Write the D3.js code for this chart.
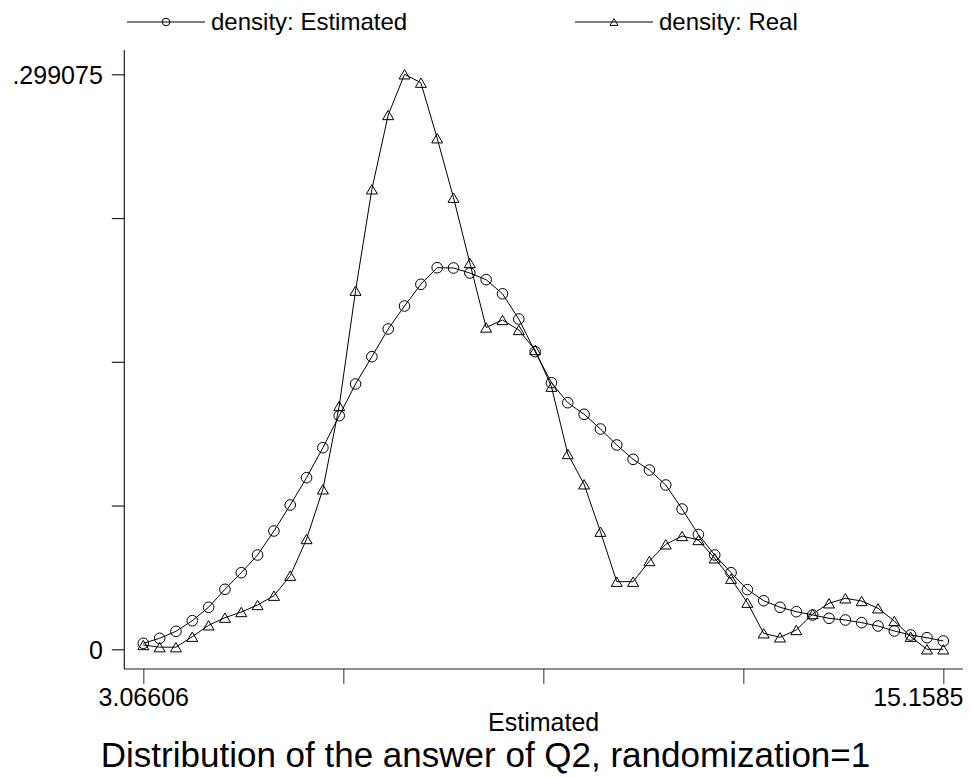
<!DOCTYPE html>
<html lang="en">
<head>
<meta charset="UTF-8">
<title>Distribution of the answer of Q2</title>
<script src="https://cdn.jsdelivr.net/npm/d3@7"></script>
<style>
    body { margin: 0; background: #fff; }
    svg text { font-family: "Liberation Sans", Arial, Helvetica, sans-serif; fill: #000; }
</style>
</head>
<body>
<div id="chart"></div>
<script>
// grid of evaluation points (50 points between min and max)
var xValues = [3.0661, 3.3128, 3.5596, 3.8064, 4.0532, 4.3000, 4.5468, 4.7935, 5.0403, 5.2871,
    5.5339, 5.7807, 6.0275, 6.2743, 6.5210, 6.7678, 7.0146, 7.2614, 7.5082, 7.7550,
    8.0017, 8.2485, 8.4953, 8.7421, 8.9889, 9.2357, 9.4824, 9.7292, 9.9760, 10.2228,
    10.4696, 10.7164, 10.9632, 11.2099, 11.4567, 11.7035, 11.9503, 12.1971, 12.4439, 12.6906,
    12.9374, 13.1842, 13.4310, 13.6778, 13.9246, 14.1714, 14.4181, 14.6649, 14.9117, 15.1585]

var densityEstimated = [0.00312, 0.00572, 0.00936, 0.01488, 0.02185, 0.03121, 0.03984, 0.04905, 0.06153, 0.07506,
    0.08925, 0.10486, 0.12150, 0.13799, 0.15219, 0.16660, 0.17856, 0.18985, 0.19848, 0.19833,
    0.19573, 0.19224, 0.18491, 0.17180, 0.15479, 0.13867, 0.12826, 0.12223, 0.11459, 0.10626,
    0.09882, 0.09326, 0.08546, 0.07297, 0.05971, 0.04905, 0.03984, 0.03105, 0.02528, 0.02185,
    0.01956, 0.01784, 0.01612, 0.01524, 0.01384, 0.01212, 0.00952, 0.00744, 0.00603, 0.00432]

var densityReal = [0.00224, 0.00110, 0.00110, 0.00655, 0.01248, 0.01644, 0.01940, 0.02304, 0.02788, 0.03828,
    0.05737, 0.08322, 0.12655, 0.18652, 0.23926, 0.27791, 0.299075, 0.29471, 0.26579, 0.23489,
    0.20093, 0.16738, 0.17128, 0.16608, 0.15568, 0.13659, 0.10158, 0.08582, 0.06117, 0.03516,
    0.03516, 0.04593, 0.05461, 0.05893, 0.05685, 0.04733, 0.03672, 0.02424, 0.00832, 0.00624,
    0.01004, 0.01836, 0.02393, 0.02653, 0.02512, 0.02133, 0.01472, 0.00655, 0, 0]

var xTicks = [3.06606, 6.0892, 9.11228, 12.1354, 15.1585]
var xTickLabels = ["3.06606", "", "", "", "15.1585"]
var yTicks = [0, 0.07476875, 0.1495375, 0.22430625, 0.299075]
var yTickLabels = ["0", "", "", "", ".299075"]

var seriesNames = ["density: Estimated", "density: Real"]
var xTitle = "Estimated"
var chartTitle = "Distribution of the answer of Q2, randomization=1"

var W = 971, H = 778
// plot region (axis lines) and inner data range
var regionLeft = 124.3, regionRight = 963, regionTop = 50, regionBottom = 669

var svg = d3.select("#chart").append("svg").attr("width", W).attr("height", H)
svg.append("rect").attr("width", W).attr("height", H).attr("fill", "#fff")

var x = d3.scaleLinear().domain([3.06606, 15.1585]).range([143.3, 943.3])
var y = d3.scaleLinear().domain([0, 0.299075]).range([649.3, 74.3])

// y axis
var yAxis = d3.axisLeft(y).tickValues(yTicks).tickSize(12.5).tickPadding(9)
    .tickFormat((d, i) => yTickLabels[i])
var gy = svg.append("g").attr("transform", "translate(" + regionLeft + ",0)").call(yAxis)
gy.select(".domain").remove()
gy.selectAll(".tick line").attr("stroke", "#222").attr("stroke-width", 1.2)
gy.selectAll(".tick text").attr("font-size", 25).attr("dy", "0.35em")
svg.append("line").attr("x1", regionLeft).attr("x2", regionLeft)
    .attr("y1", regionTop).attr("y2", regionBottom).attr("stroke", "#222").attr("stroke-width", 1.2)

// x axis
var xAxis = d3.axisBottom(x).tickValues(xTicks).tickSize(15).tickPadding(4)
    .tickFormat((d, i) => xTickLabels[i])
var gx = svg.append("g").attr("transform", "translate(0," + regionBottom + ")").call(xAxis)
gx.select(".domain").remove()
gx.selectAll(".tick line").attr("stroke", "#555").attr("stroke-width", 1.2)
gx.selectAll(".tick text").attr("font-size", 25).attr("dy", "0.71em")
// last label is pulled in so it stays inside the picture
gx.selectAll(".tick text").filter((d, i) => i == xTicks.length - 1)
    .attr("text-anchor", "end").attr("x", regionRight - x(15.1585))
svg.append("line").attr("x1", regionLeft).attr("x2", regionRight)
    .attr("y1", regionBottom).attr("y2", regionBottom).attr("stroke", "#222").attr("stroke-width", 1.2)

// titles
svg.append("text").attr("x", (regionLeft + regionRight) / 2).attr("y", 731)
    .attr("text-anchor", "middle").attr("font-size", 25).text(xTitle)
svg.append("text").attr("x", W / 2).attr("y", 767)
    .attr("text-anchor", "middle").attr("font-size", 35).text(chartTitle)

// markers
function circleMark(g, r) {
    g.append("circle").attr("r", r).attr("fill", "none").attr("stroke", "#000").attr("stroke-width", 1)
}
function triangleMark(g, s) {
    var h = s * 0.85
    g.append("path").attr("d", "M0," + (-h / 2) + "L" + (s / 2) + "," + (h / 2) + "L" + (-s / 2) + "," + (h / 2) + "Z")
        .attr("fill", "none").attr("stroke", "#000").attr("stroke-width", 1)
}

var line = d3.line().x(d => x(d[0])).y(d => y(d[1]))
var series = [
    { values: densityEstimated, mark: circleMark, size: 5.3 },
    { values: densityReal, mark: triangleMark, size: 11 }
]
series.forEach(s => {
    var pts = xValues.map((xv, i) => [xv, s.values[i]])
    svg.append("path").datum(pts).attr("d", line)
        .attr("fill", "none").attr("stroke", "#000").attr("stroke-width", 1)
    svg.append("g").selectAll("g").data(pts).join("g")
        .attr("transform", d => "translate(" + x(d[0]) + "," + y(d[1]) + ")")
        .each(function () { s.mark(d3.select(this), s.size) })
})

// legend
var legend = [
    { name: seriesNames[0], x: 127, mark: circleMark, size: 3.8 },
    { name: seriesNames[1], x: 575, mark: triangleMark, size: 8 }
]
legend.forEach(l => {
    var g = svg.append("g").attr("transform", "translate(" + l.x + ",22)")
    g.append("line").attr("x1", 0).attr("x2", 78).attr("stroke", "#000").attr("stroke-width", 1)
    var m = g.append("g").attr("transform", "translate(39,0)")
    l.mark(m, l.size)
    g.append("text").attr("x", 84).attr("y", 0).attr("dy", "0.35em").attr("font-size", 24).text(l.name)
})
</script>
</body>
</html>
